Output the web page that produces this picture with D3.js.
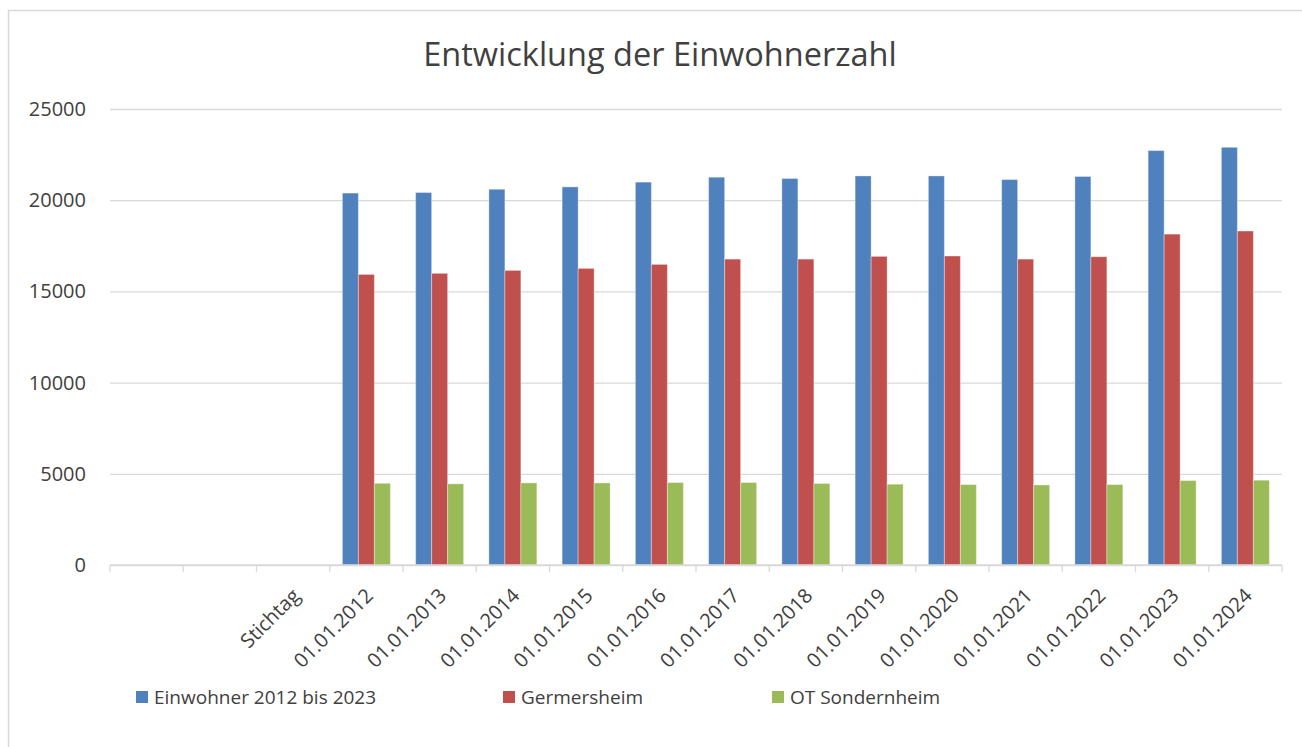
<!DOCTYPE html>
<html>
<head>
<meta charset="utf-8">
<script src="https://cdn.jsdelivr.net/npm/d3@7/dist/d3.min.js"></script>
<style>
  body { margin: 0; background: #fff; }
  text { font-family: "Open Sans", sans-serif; fill: #404040; }
</style>
</head>
<body>
<svg id="chart"></svg>
<script>
// data
var categories = ['', ' ', 'Stichtag', '01.01.2012', '01.01.2013', '01.01.2014', '01.01.2015',
    '01.01.2016', '01.01.2017', '01.01.2018', '01.01.2019', '01.01.2020', '01.01.2021',
    '01.01.2022', '01.01.2023', '01.01.2024'];
var seriesNames = ['Einwohner 2012 bis 2023', 'Germersheim', 'OT Sondernheim'];
var einwohner = [null, null, null, 20390, 20420, 20600, 20730, 20990, 21260, 21190, 21330, 21330, 21130, 21300, 22720, 22900];
var germersheim = [null, null, null, 15930, 15990, 16150, 16260, 16480, 16770, 16770, 16920, 16940, 16770, 16900, 18140, 18310];
var sondernheim = [null, null, null, 4480, 4450, 4500, 4500, 4520, 4520, 4470, 4430, 4410, 4390, 4410, 4630, 4650];
var yTicks = [0, 5000, 10000, 15000, 20000, 25000];
var colors = ['#4f81bd', '#c0504d', '#9bbb59'];

var W = 1302, H = 747;
var margin = { top: 109, right: 20, bottom: 182, left: 110 };
var width = W - margin.left - margin.right;
var height = H - margin.top - margin.bottom;

var svg = d3.select('#chart')
    .attr('width', W)
    .attr('height', H);

// outer chart border (only left/top visible)
svg.append('rect')
    .attr('x', 8.5).attr('y', 10.5)
    .attr('width', 1400).attr('height', 1000)
    .attr('fill', 'none')
    .attr('stroke', '#d9d9d9')
    .attr('stroke-width', 1.5);

svg.append('text')
    .attr('x', 660)
    .attr('y', 66)
    .attr('text-anchor', 'middle')
    .style('font-size', '32.5px')
    .text('Entwicklung der Einwohnerzahl');

var g = svg.append('g')
    .attr('transform', `translate(${margin.left}, ${margin.top})`);

var x0 = d3.scaleBand()
    .domain(categories)
    .range([0, width]);
var x1 = d3.scaleBand()
    .domain(seriesNames)
    .range([0, x0.bandwidth() * 0.655])
    .padding(0);
var yScale = d3.scaleLinear()
    .domain([0, 25000])
    .range([height, 0]);

// gridlines + y labels
g.append('g')
    .call(d3.axisLeft(yScale).tickValues(yTicks).tickFormat(d3.format('d')).tickSize(-width).tickPadding(24))
    .call(a => a.select('.domain').remove())
    .call(a => a.selectAll('.tick line').attr('stroke', '#d9d9d9').attr('stroke-width', 1.3))
    .call(a => a.selectAll('.tick text')
        .style('font-size', '20px').style('font-family', '"Open Sans", sans-serif').attr('fill', '#404040'));

// bars
var seriesData = [einwohner, germersheim, sondernheim];
var groupOffset = (x0.bandwidth() - x1.range()[1]) / 2;
seriesData.forEach(function (vals, si) {
    g.append('g')
        .selectAll('rect')
        .data(vals.map((v, i) => ({ cat: categories[i], v: v })).filter(d => d.v != null))
        .join('rect')
        .attr('x', d => x0(d.cat) + groupOffset + x1(seriesNames[si]))
        .attr('y', d => yScale(d.v))
        .attr('width', x1.bandwidth())
        .attr('height', d => height - yScale(d.v))
        .attr('fill', colors[si])
        .attr('stroke', '#ffffff')
        .attr('stroke-opacity', 0.35)
        .attr('stroke-width', 1);
});

// x axis
var xAxis = g.append('g')
    .attr('transform', `translate(0, ${height})`);
xAxis.append('line')
    .attr('x1', 0).attr('x2', width)
    .attr('stroke', '#d9d9d9').attr('stroke-width', 1.3);
xAxis.selectAll('.xtick')
    .data(d3.range(categories.length + 1))
    .join('line')
    .attr('x1', i => i * x0.step()).attr('x2', i => i * x0.step())
    .attr('y1', 0).attr('y2', 7)
    .attr('stroke', '#d9d9d9').attr('stroke-width', 1.3);
xAxis.selectAll('.xlabel')
    .data(categories)
    .join('text')
    .attr('transform', d => `translate(${x0(d) + x0.bandwidth() / 2 + 3}, 27) rotate(-45)`)
    .attr('text-anchor', 'end')
    .attr('dy', '0.35em')
    .style('font-size', '20px')
    .text(d => d.trim());

// legend
var legendX = [136, 503, 772];
var legend = svg.append('g');
seriesNames.forEach(function (name, i) {
    legend.append('rect')
        .attr('x', legendX[i]).attr('y', 691)
        .attr('width', 12).attr('height', 12)
        .attr('fill', colors[i]);
    legend.append('text')
        .attr('x', legendX[i] + 18)
        .attr('y', 704)
        .style('font-size', '19px')
        .text(name);
});
</script>
</body>
</html>
